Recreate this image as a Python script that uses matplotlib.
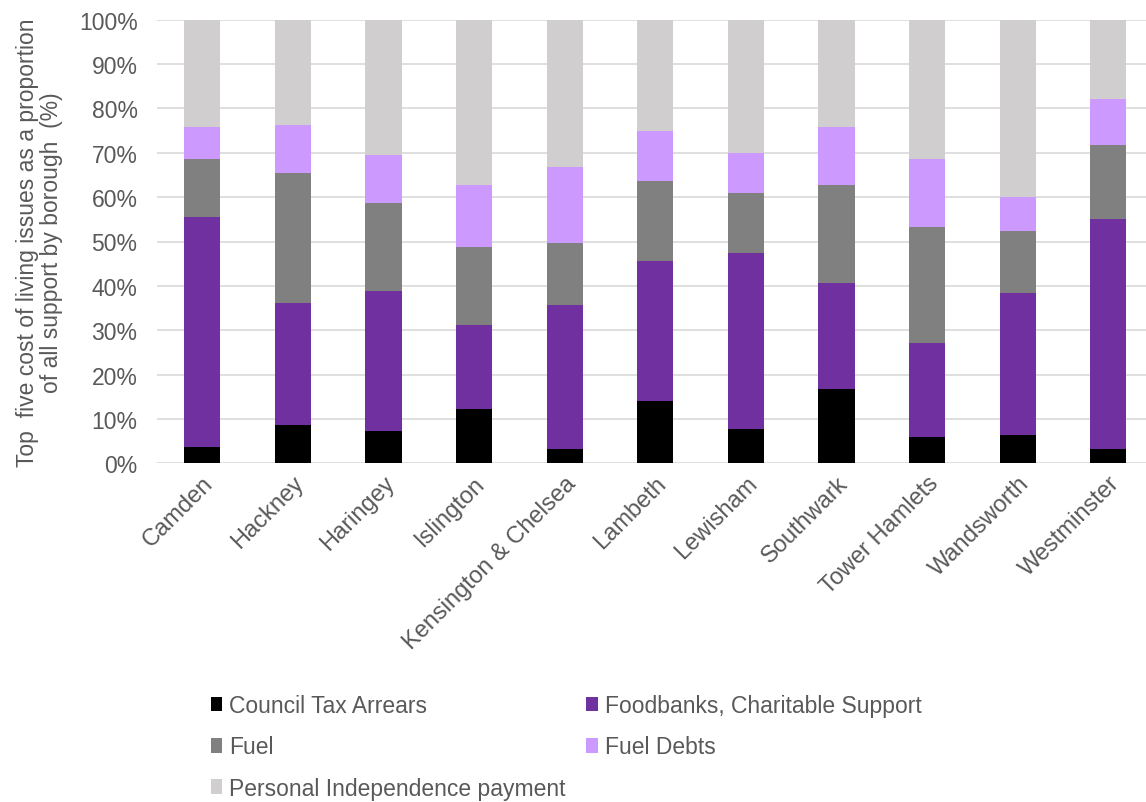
import matplotlib
matplotlib.use("Agg")
import matplotlib.pyplot as plt
import numpy as np

plt.rcParams['font.family'] = ['Liberation Sans', 'DejaVu Sans']

boroughs = ["Camden", "Hackney", "Haringey", "Islington", "Kensington & Chelsea",
            "Lambeth", "Lewisham", "Southwark", "Tower Hamlets", "Wandsworth",
            "Westminster"]

council_tax = [3.7, 8.6, 7.3, 12.2, 3.2, 14.0, 7.7, 16.8, 5.9, 6.4, 3.2]
foodbanks = [51.8, 27.5, 31.5, 19.0, 32.5, 31.6, 39.7, 23.8, 21.2, 32.0, 51.9]
fuel = [13.1, 29.3, 19.9, 17.6, 14.0, 18.0, 13.5, 22.1, 26.2, 14.0, 16.6]
fuel_debts = [7.2, 10.9, 10.8, 13.9, 17.1, 11.3, 9.0, 13.1, 15.3, 7.6, 10.4]
pip = [24.2, 23.7, 30.5, 37.3, 33.2, 25.1, 30.1, 24.2, 31.4, 40.0, 17.9]

series_names = ["Council Tax Arrears", "Foodbanks, Charitable Support", "Fuel",
                "Fuel Debts", "Personal Independence payment"]
series_values = [council_tax, foodbanks, fuel, fuel_debts, pip]
colors = ["#000000", "#7030A0", "#808080", "#CC99FF", "#D0CECE"]

y_ticks = np.arange(0, 101, 10)
y_tick_labels = [f"{v}%" for v in y_ticks]

text_color = "#595959"
W, H = 1146, 803
fig = plt.figure(figsize=(W / 100, H / 100), dpi=100)
ax = fig.add_axes([157 / W, 1 - 464.3 / H, 996.6 / W, (464.3 - 20.7) / H])

x = np.arange(len(boroughs))
bottom = np.zeros(len(boroughs))
handles = []
for name, vals, col in zip(series_names, series_values, colors):
    vals = np.array(vals, dtype=float)
    b = ax.bar(x, vals, width=0.4, bottom=bottom, color=col, label=name,
               zorder=3, linewidth=0)
    handles.append(b)
    bottom += vals

ax.set_xlim(-0.5, len(boroughs) - 0.5)
ax.set_ylim(0, 100)
ax.set_yticks(y_ticks)
ax.set_yticklabels(y_tick_labels)
ax.yaxis.grid(True, color="#D9D9D9", linewidth=1.2, zorder=0)
ax.set_axisbelow(True)
for s in ax.spines.values():
    s.set_visible(False)

ax.tick_params(axis="y", length=0, pad=14, labelsize=16.5, labelcolor=text_color)
ax.tick_params(axis="x", length=0, pad=6, labelsize=17, labelcolor=text_color)
ax.set_xticks(x)
ax.set_xticklabels(boroughs, rotation=45, ha="right", rotation_mode="anchor")

fig.text(39.5 / W, 1 - 242.5 / H,
         "Top  five cost of living issues as a proportion\nof all support by borough  (%)",
         rotation=90, ha="center", va="center", multialignment="center",
         fontsize=16.5, color=text_color, linespacing=1.05)

order = [0, 2, 4, 1, 3]
leg = fig.legend([handles[i] for i in order], [series_names[i] for i in order],
                 loc="upper left", bbox_to_anchor=(211 / W, 1 - 695 / H),
                 ncol=2, frameon=False, fontsize=16.5, handlelength=0.5,
                 handleheight=0.6, handletextpad=0.3, columnspacing=0.9,
                 labelspacing=0.8, borderpad=0, borderaxespad=0)
for t in leg.get_texts():
    t.set_color(text_color)

fig.savefig("out.png", dpi=100)
